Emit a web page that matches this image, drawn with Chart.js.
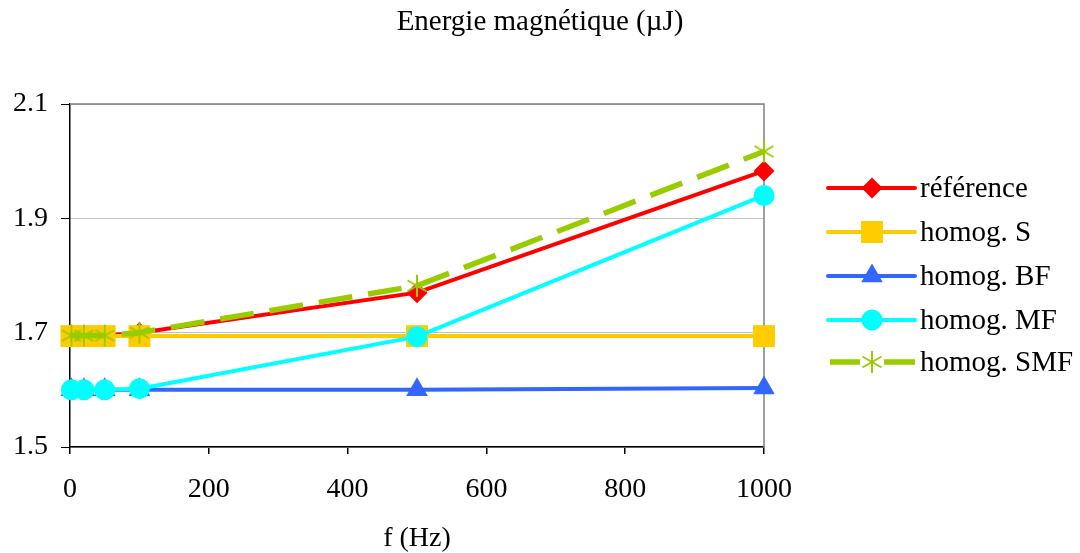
<!DOCTYPE html>
<html><head><meta charset="utf-8">
<script src="https://cdn.jsdelivr.net/npm/chart.js@4"></script>
<style>html,body{margin:0;padding:0;background:#fff}#wrap{width:1080px;height:553px}</style>
</head><body><div id="wrap"><canvas id="c" width="1080" height="553"></canvas></div>
<script>
const chartTitle = "Energie magnétique (µJ)";
const xTitle = "f (Hz)";
const freq = [2, 20, 50, 100, 500, 1000];
const seriesNames = ["référence", "homog. S", "homog. BF", "homog. MF", "homog. SMF"];
const reference = [1.695, 1.695, 1.695, 1.700, 1.770, 1.983];
const homogS    = [1.694, 1.694, 1.694, 1.694, 1.694, 1.694];
const homogBF   = [1.600, 1.600, 1.600, 1.600, 1.600, 1.603];
const homogMF   = [1.600, 1.600, 1.600, 1.602, 1.693, 1.940];
const homogSMF  = [1.695, 1.695, 1.695, 1.700, 1.782, 2.017];
const yTicks = [1.5, 1.7, 1.9, 2.1];

const FONT = "'Liberation Serif', 'Times New Roman', serif";
const pts = arr => arr.map((v, i) => ({x: freq[i], y: v}));

function asterisk(color, size) {
  const c = document.createElement('canvas');
  c.width = size; c.height = size;
  const g = c.getContext('2d');
  g.strokeStyle = color; g.lineWidth = 2;
  const m = size / 2, r = size / 2 - 1;
  g.beginPath();
  g.moveTo(m, m - r); g.lineTo(m, m + r);
  const d = r * Math.cos(Math.PI / 6), e = r * Math.sin(Math.PI / 6);
  g.moveTo(m - d, m - e); g.lineTo(m + d, m + e);
  g.moveTo(m - d, m + e); g.lineTo(m + d, m - e);
  g.stroke();
  return c;
}

const styles = [
  {color: '#ff0000', point: 'rectRot', r: 10.5, dash: [], w: 4},
  {color: '#ffcc00', point: 'rect', r: 15.5, dash: [], w: 4},
  {color: '#3366ff', point: 'triangle', r: 12.5, dash: [], w: 4},
  {color: '#00ffff', point: 'circle', r: 10.5, dash: [], w: 4},
  {color: '#99cc00', point: asterisk('#99cc00', 24), r: 12, dash: [34, 16], w: 5.5}
];
const values = [reference, homogS, homogBF, homogMF, homogSMF];

const datasets = values.map((v, i) => ({
  label: seriesNames[i],
  data: pts(v),
  borderColor: styles[i].color,
  backgroundColor: styles[i].color,
  borderWidth: styles[i].w,
  borderDash: styles[i].dash,
  pointStyle: styles[i].point,
  pointRadius: styles[i].r,
  pointBorderWidth: 0,
  pointBackgroundColor: styles[i].color,
  tension: 0,
  clip: false,
  order: 5 - i
}));

const deco = {
  id: 'deco',
  beforeDatasetsDraw(chart) {
    const {ctx, chartArea: a} = chart;
    ctx.save();
    ctx.strokeStyle = '#808080';
    ctx.lineWidth = 1.5;
    ctx.beginPath();
    ctx.moveTo(a.left, a.top); ctx.lineTo(a.right, a.top); ctx.lineTo(a.right, a.bottom);
    ctx.stroke();
    ctx.restore();
  },
  afterDraw(chart) {
    const {ctx} = chart;
    ctx.save();
    ctx.fillStyle = '#000';
    ctx.font = "29px " + FONT;
    ctx.textAlign = 'center';
    ctx.textBaseline = 'middle';
    ctx.fillText(chartTitle, 540, 22);
    const rows = [188, 232, 276, 320, 362];
    chart.data.datasets.forEach((ds, i) => {
      const y = rows[i];
      ctx.save();
      ctx.strokeStyle = ds.borderColor;
      ctx.lineWidth = ds.borderWidth;
      ctx.beginPath();
      if (ds.borderDash.length) {
        ctx.lineCap = 'butt';
        ctx.moveTo(830, y); ctx.lineTo(860, y);
        ctx.moveTo(884, y); ctx.lineTo(915, y);
      } else {
        ctx.lineCap = 'round';
        ctx.moveTo(828, y); ctx.lineTo(915, y);
      }
      ctx.stroke();
      ctx.fillStyle = ds.backgroundColor;
      ctx.strokeStyle = ds.borderColor;
      Chart.helpers.drawPoint(ctx, {
        pointStyle: ds.pointStyle, radius: ds.pointRadius, borderWidth: 0
      }, 872, y);
      ctx.restore();
      ctx.fillStyle = '#000';
      ctx.font = "29px " + FONT;
      ctx.textAlign = 'left';
      ctx.textBaseline = 'middle';
      ctx.fillText(ds.label, 920, y + 1);
    });
    ctx.restore();
  }
};

new Chart(document.getElementById('c'), {
  type: 'line',
  data: {datasets},
  options: {
    responsive: false,
    animation: false,
    devicePixelRatio: 1,
    layout: {padding: {top: 104, right: 316, bottom: 0, left: 0}},
    plugins: {legend: {display: false}, title: {display: false}, tooltip: {enabled: false}},
    scales: {
      x: {
        type: 'linear', min: 0, max: 1000,
        ticks: {stepSize: 200, color: '#000', font: {family: FONT, size: 28}, padding: 19, maxRotation: 0,
                callback: v => String(v)},
        grid: {drawOnChartArea: false, tickLength: 7, tickColor: '#000', lineWidth: 1.5},
        border: {color: '#000', width: 1.5},
        title: {display: true, text: xTitle, color: '#000', font: {family: FONT, size: 28, lineHeight: 1}, padding: {top: 10, bottom: 0}},
        afterFit(s) { s.height = 106; }
      },
      y: {
        min: 1.5, max: 2.1,
        afterBuildTicks(s) { s.ticks = yTicks.map(v => ({value: v})); },
        ticks: {color: '#000', font: {family: FONT, size: 28}, padding: 13, callback: v => v.toFixed(1)},
        grid: {color: '#c0c0c0', lineWidth: 1, tickLength: 9, tickColor: '#000'},
        border: {color: '#000', width: 1.5},
        afterFit(s) { s.width = 70; }
      }
    }
  },
  plugins: [deco]
});
</script>
</body></html>
